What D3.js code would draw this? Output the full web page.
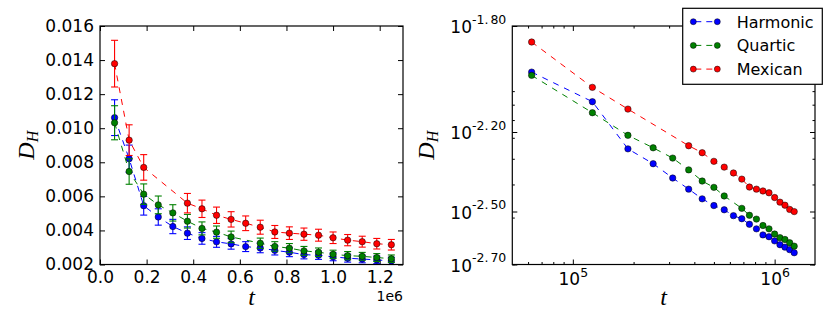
<!DOCTYPE html>
<html>
<head>
<meta charset="utf-8">
<script src="https://cdn.jsdelivr.net/npm/d3@7"></script>
<style>
  body { margin: 0; background: #fff; }
</style>
</head>
<body>
<div id="root"></div>
<script>
// time points (each series has its own, some are missing)
const tHarmonic = [62500, 125000, 187500, 250000, 312500, 375000, 437500, 500000, 562500, 625000,
  687500, 750000, 812500, 875000, 937500, 1000000, 1062500, 1125000, 1187500, 1250000];
const tQuartic = [62500, 125000, 187500, 250000, 312500, 375000, 437500, 500000, 562500,
  687500, 750000, 812500, 875000, 937500, 1000000, 1062500, 1125000, 1187500, 1250000];
const tMexican = [62500, 125000, 187500, 375000, 437500, 500000, 562500, 625000,
  687500, 750000, 812500, 875000, 937500, 1000000, 1062500, 1125000, 1187500, 1250000];

const dHarmonic = [0.01062, 0.00821, 0.00545, 0.00479, 0.00423, 0.00384, 0.00353, 0.00333, 0.00321, 0.00305,
  0.00297, 0.00283, 0.00272, 0.00258, 0.00254, 0.00245, 0.00237, 0.00232, 0.00227, 0.00221];
const dQuartic = [0.01032, 0.00746, 0.00613, 0.00550, 0.00503, 0.00454, 0.00412, 0.00390, 0.00362,
  0.00325, 0.00306, 0.00296, 0.00280, 0.00272, 0.00260, 0.00252, 0.00248, 0.00241, 0.00234];
const dMexican = [0.01379, 0.00930, 0.00770, 0.00560, 0.00527, 0.00489, 0.00465, 0.00442,
  0.00419, 0.00391, 0.00384, 0.00378, 0.00372, 0.00357, 0.00343, 0.00334, 0.00322, 0.00316];

const errHarmonic = [0.00105, 0.00080, 0.00055, 0.00048, 0.00042, 0.00037, 0.00034, 0.00032, 0.00031, 0.00029,
  0.00028, 0.00027, 0.00026, 0.00025, 0.00024, 0.00023, 0.00023, 0.00022, 0.00022, 0.00021];
const errQuartic = [0.00100, 0.00075, 0.00060, 0.00052, 0.00048, 0.00040, 0.00038, 0.00036, 0.00034,
  0.00030, 0.00028, 0.00027, 0.00026, 0.00025, 0.00024, 0.00024, 0.00023, 0.00023, 0.00022];
const errMexican = [0.00137, 0.00090, 0.00075, 0.00057, 0.00051, 0.00048, 0.00045, 0.00043,
  0.00041, 0.00038, 0.00037, 0.00036, 0.00035, 0.00034, 0.00033, 0.00032, 0.00031, 0.00031];

const names = ["Harmonic", "Quartic", "Mexican"];
const colors = ["#0000ff", "#008000", "#ff0000"];

const leftXTicks = [0, 200000, 400000, 600000, 800000, 1000000, 1200000];
const leftYTicks = [0.002, 0.004, 0.006, 0.008, 0.010, 0.012, 0.014, 0.016];
const rightXTicks = [1e5, 1e6];
const rightXLabels = ["5", "6"];
const rightYExp = [-1.80, -2.20, -2.50, -2.70];
const rightYLabels = ["-1.80", "-2.20", "-2.50", "-2.70"];

const series = [
  { name: names[0], color: colors[0], t: tHarmonic, d: dHarmonic, e: errHarmonic },
  { name: names[1], color: colors[1], t: tQuartic, d: dQuartic, e: errQuartic },
  { name: names[2], color: colors[2], t: tMexican, d: dMexican, e: errMexican }
];

const svg = d3.select("#root").append("svg")
  .attr("width", 830)
  .attr("height", 332)
  .style("font-family", "'DejaVu Sans', sans-serif");

const yTop = 26, yBot = 264.5;
const xL = d3.scaleLinear().domain([0, 1.3e6]).range([100, 403]);
const yL = d3.scaleLinear().domain([0.002, 0.016]).range([yBot, yTop]);
const xR = d3.scaleLog().domain([Math.pow(10, 4.7), Math.pow(10, 6.2)]).range([512.3, 815]);
const yR = d3.scaleLog().domain([Math.pow(10, -2.7), Math.pow(10, -1.8)]).range([yBot, yTop]);

function styleAxis(g, size) {
  g.attr("font-family", null);
  g.select(".domain").remove();
  g.selectAll(".tick line").attr("stroke", "#000").attr("stroke-width", 1);
  g.selectAll(".tick text").attr("font-size", size).attr("fill", "#000");
}

function drawSeries(g, x, y, withErr) {
  for (const s of series) {
    const pts = s.t.map((t, i) => ({ t: t, v: s.d[i], e: s.e[i] }));
    const line = d3.line().x(d => x(d.t)).y(d => y(d.v));
    g.append("path")
      .datum(pts)
      .attr("d", line)
      .attr("fill", "none")
      .attr("stroke", s.color)
      .attr("stroke-width", 1)
      .attr("stroke-dasharray", "6,6");
    if (withErr) {
      const eg = g.append("g").attr("stroke", s.color).attr("stroke-width", 1.1);
      eg.selectAll(".bar").data(pts).join("line")
        .attr("x1", d => x(d.t)).attr("x2", d => x(d.t))
        .attr("y1", d => y(d.v - d.e)).attr("y2", d => y(d.v + d.e));
      eg.selectAll(".capTop").data(pts).join("line")
        .attr("x1", d => x(d.t) - 3.5).attr("x2", d => x(d.t) + 3.5)
        .attr("y1", d => y(d.v + d.e)).attr("y2", d => y(d.v + d.e));
      eg.selectAll(".capBot").data(pts).join("line")
        .attr("x1", d => x(d.t) - 3.5).attr("x2", d => x(d.t) + 3.5)
        .attr("y1", d => y(d.v - d.e)).attr("y2", d => y(d.v - d.e));
    }
    g.append("g").selectAll("circle").data(pts).join("circle")
      .attr("cx", d => x(d.t))
      .attr("cy", d => y(d.v))
      .attr("r", 3.2)
      .attr("fill", s.color)
      .attr("stroke", "#000")
      .attr("stroke-width", 0.5);
  }
}

function frame(x) {
  svg.append("rect")
    .attr("x", x.range()[0]).attr("y", yTop)
    .attr("width", x.range()[1] - x.range()[0])
    .attr("height", yBot - yTop)
    .attr("fill", "none")
    .attr("stroke", "#000")
    .attr("stroke-width", 1.2);
}

// ---------- left panel ----------
svg.append("g").attr("transform", `translate(0,${yBot})`)
  .call(d3.axisBottom(xL).tickValues(leftXTicks).tickSize(-5).tickPadding(6)
    .tickFormat(d => (d / 1e6).toFixed(1)))
  .call(g => styleAxis(g, 17));
svg.append("g").attr("transform", `translate(0,${yTop})`)
  .call(d3.axisTop(xL).tickValues(leftXTicks).tickSize(-5).tickFormat(""))
  .call(g => styleAxis(g, 17));
svg.append("g").attr("transform", `translate(${xL.range()[0]},0)`)
  .call(d3.axisLeft(yL).tickValues(leftYTicks).tickSize(-5).tickPadding(6)
    .tickFormat(d3.format(".3f")))
  .call(g => styleAxis(g, 17));
svg.append("g").attr("transform", `translate(${xL.range()[1]},0)`)
  .call(d3.axisRight(yL).tickValues(leftYTicks).tickSize(-5).tickFormat(""))
  .call(g => styleAxis(g, 17));

drawSeries(svg.append("g"), xL, yL, true);
frame(xL);

svg.append("text")
  .attr("x", 403).attr("y", 301)
  .attr("text-anchor", "end")
  .attr("font-size", 14)
  .text("1e6");

// ---------- right panel ----------
const minorX = [];
for (const dec of [1e4, 1e5, 1e6]) {
  for (let m = 2; m <= 9; m++) {
    const v = m * dec;
    if (v > xR.domain()[0] && v < xR.domain()[1]) minorX.push(v);
  }
}
const minorY = [];
for (let m = 2; m <= 9; m++) minorY.push(m * 1e-3);

const rYTicks = rightYExp.map(e => Math.pow(10, e));

svg.append("g").attr("transform", `translate(0,${yBot})`)
  .call(d3.axisBottom(xR).tickValues(rightXTicks).tickSize(-5).tickPadding(7).tickFormat(""))
  .call(g => styleAxis(g, 17))
  .call(g => g.selectAll(".tick text").each(function (d, i) {
    const t = d3.select(this).attr("dy", null).attr("y", 20.5);
    t.append("tspan").text("10");
    t.append("tspan").attr("font-size", 12.5).attr("dy", -8.5).text(rightXLabels[i]);
  }));
svg.append("g").attr("transform", `translate(0,${yBot})`)
  .call(d3.axisBottom(xR).tickValues(minorX).tickSize(-2.5).tickFormat(""))
  .call(g => styleAxis(g, 17));
svg.append("g").attr("transform", `translate(0,${yTop})`)
  .call(d3.axisTop(xR).tickValues(rightXTicks).tickSize(-5).tickFormat(""))
  .call(g => styleAxis(g, 17));
svg.append("g").attr("transform", `translate(0,${yTop})`)
  .call(d3.axisTop(xR).tickValues(minorX).tickSize(-2.5).tickFormat(""))
  .call(g => styleAxis(g, 17));

svg.append("g").attr("transform", `translate(${xR.range()[0]},0)`)
  .call(d3.axisLeft(yR).tickValues(rYTicks).tickSize(-5).tickPadding(6).tickFormat(""))
  .call(g => styleAxis(g, 17))
  .call(g => g.selectAll(".tick text").each(function (d, i) {
    const t = d3.select(this).attr("dy", null).attr("y", 6.5);
    t.append("tspan").text("10");
    const parts = rightYLabels[i].split(".");
    t.append("tspan").attr("font-size", 12.5).attr("dy", -9.5).text(parts[0] + ".");
    t.append("tspan").attr("font-size", 12.5).attr("dx", 2).text(parts[1]);
  }));
svg.append("g").attr("transform", `translate(${xR.range()[0]},0)`)
  .call(d3.axisLeft(yR).tickValues(minorY).tickSize(-2.5).tickFormat(""))
  .call(g => styleAxis(g, 17));
svg.append("g").attr("transform", `translate(${xR.range()[1]},0)`)
  .call(d3.axisRight(yR).tickValues(rYTicks).tickSize(-5).tickFormat(""))
  .call(g => styleAxis(g, 17));
svg.append("g").attr("transform", `translate(${xR.range()[1]},0)`)
  .call(d3.axisRight(yR).tickValues(minorY).tickSize(-2.5).tickFormat(""))
  .call(g => styleAxis(g, 17));

drawSeries(svg.append("g"), xR, yR, false);
frame(xR);

// ---------- axis labels ----------
function tLabel(cx) {
  svg.append("text")
    .attr("x", cx).attr("y", 305)
    .attr("text-anchor", "middle")
    .style("font-family", "'Liberation Serif', serif")
    .style("font-style", "italic")
    .attr("font-size", 24)
    .text("t");
}
tLabel((xL.range()[0] + xL.range()[1]) / 2);
tLabel((xR.range()[0] + xR.range()[1]) / 2);

function dLabel(bx) {
  const t = svg.append("text")
    .attr("transform", `translate(${bx},${(yTop + yBot) / 2}) rotate(-90)`)
    .attr("text-anchor", "middle")
    .style("font-family", "'Liberation Serif', serif")
    .style("font-style", "italic")
    .attr("font-size", 24);
  t.append("tspan").text("D");
  t.append("tspan").attr("font-size", 16).attr("dy", 4).text("H");
}
dLabel(34);
dLabel(434);

// ---------- legend ----------
const lg = svg.append("g");
lg.append("rect")
  .attr("x", 682.7).attr("y", 8.3)
  .attr("width", 139.6).attr("height", 76)
  .attr("fill", "#fff")
  .attr("stroke", "#000")
  .attr("stroke-width", 1.2);
series.forEach((s, i) => {
  const cy = 21.7 + i * 23.7;
  lg.append("line")
    .attr("x1", 693.3).attr("x2", 717.3)
    .attr("y1", cy).attr("y2", cy)
    .attr("stroke", s.color)
    .attr("stroke-dasharray", "6,5")
    .attr("stroke-dashoffset", -2);
  for (const mx of [693.3, 717.3]) {
    lg.append("circle")
      .attr("cx", mx).attr("cy", cy).attr("r", 3)
      .attr("fill", s.color).attr("stroke", "#000").attr("stroke-width", 0.5);
  }
  lg.append("text")
    .attr("x", 736.7).attr("y", cy + 5.8)
    .attr("font-size", 16)
    .text(s.name);
});
</script>
</body>
</html>
